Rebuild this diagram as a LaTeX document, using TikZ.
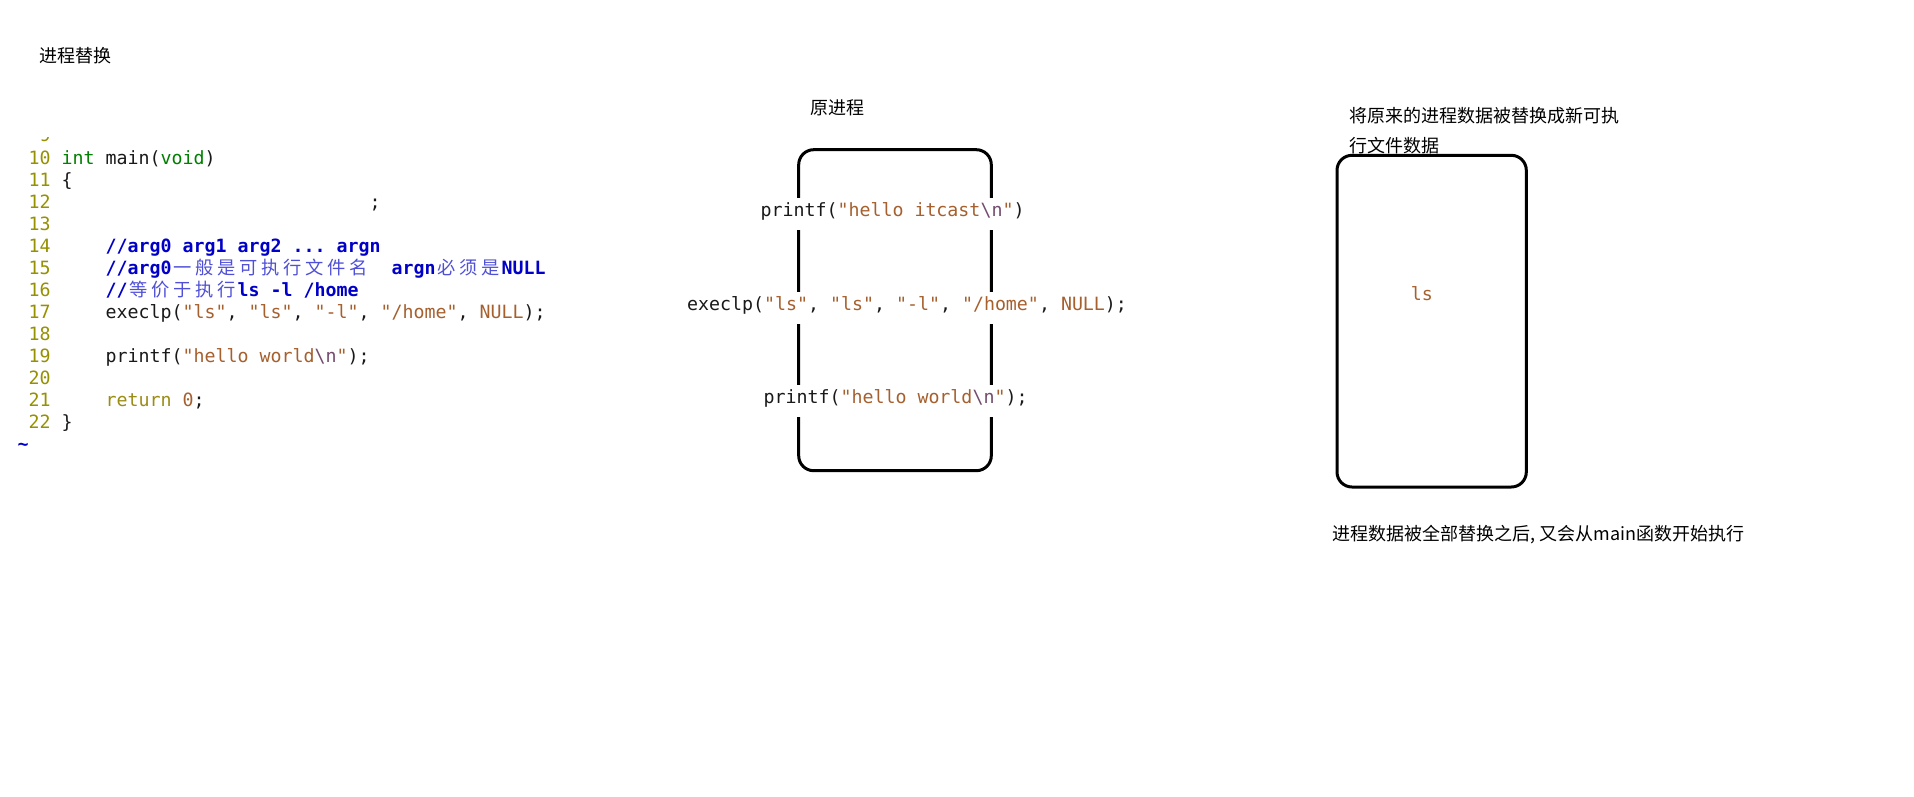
\documentclass[tikz,border=0pt]{standalone}
\usepackage{fontspec}
\setmonofont{DejaVu Sans Mono}
\newfontfamily\cjk{Noto Sans CJK SC}
\definecolor{lnum}{RGB}{150,145,0}
\definecolor{kwgreen}{RGB}{0,128,0}
\definecolor{cmt}{RGB}{0,0,200}
\definecolor{cmtcjk}{RGB}{80,80,215}
\definecolor{str}{RGB}{166,96,46}
\definecolor{esc}{RGB}{115,75,110}
\definecolor{stmt}{RGB}{155,140,20}
\definecolor{txt}{RGB}{25,25,25}
\newcommand\C[1]{\makebox[22pt]{\normalfont\cjk\fontsize{18.27}{22}\selectfont\color{cmtcjk}#1}}
\newcommand\Q[1]{\textcolor{str}{#1}}
\newcommand\E{\textcolor{esc}{\textbackslash n}}
\newcommand\seg[4]{\node[code] (#1) at ({17.5+11*#2},{164+22.03*(#3-10)}) {#4};}
\tikzset{
  code/.style={anchor=base west, inner sep=0pt, font=\ttfamily\fontsize{18.27}{22}\selectfont, text=txt},
  boxtext/.style={anchor=base, fill=white, inner xsep=1pt, inner ysep=6pt, text height=12.5pt, text depth=7.5pt, font=\ttfamily\fontsize{18.27}{22}\selectfont, text=txt},
  procbox/.style={draw=black, line width=3pt, rounded corners=15pt, inner sep=0pt},
  lab/.style={anchor=base west, inner sep=0pt, font=\cjk\fontsize{18}{22}\selectfont, text=black},
}
\begin{document}
\begin{tikzpicture}[x=1pt,y=-1pt]
\fill[white] (0,0) rectangle (1914,796);
\useasboundingbox (0,0) rectangle (1914,796);

% title
\node[lab] (title) at (39.5,62) {进程替换};

% code listing
\begin{scope}
  \clip (0,137) rectangle (100,150);
  \seg{n9}{2}{9}{\color{lnum}9}
\end{scope}
\foreach \n in {10,...,22} {
  \node[code, text=lnum] (n\n) at (28.5,{164+22.03*(\n-10)}) {\n};
}
\seg{l10}{4}{10}{\textcolor{kwgreen}{int} main(\textcolor{kwgreen}{void})}
\seg{l11}{4}{11}{\{}
\seg{l12}{32}{12}{;}
\seg{l14}{8}{14}{\bfseries\color{cmt}//arg0 arg1 arg2 ... argn}
\seg{l15}{8}{15}{\bfseries\color{cmt}//arg0\C{一}\C{般}\C{是}\C{可}\C{执}\C{行}\C{文}\C{件}\C{名}\hspace{22pt}argn\C{必}\C{须}\C{是}NULL}
\seg{l16}{8}{16}{\bfseries\color{cmt}//\C{等}\C{价}\C{于}\C{执}\C{行}ls -l /home}
\seg{l17}{8}{17}{execlp(\Q{"ls"}, \Q{"ls"}, \Q{"-l"}, \Q{"/home"}, \Q{NULL});}
\seg{l19}{8}{19}{printf(\Q{"hello world}\E\Q{"});}
\seg{l21}{8}{21}{\textcolor{stmt}{return} \Q{0};}
\seg{l22}{4}{22}{\}}
\seg{tilde}{0}{23}{\bfseries\color{cmt}\textasciitilde}

% original process
\node[lab] (origlabel) at (810.5,114) {原进程};
\node[procbox, minimum width=192.6pt, minimum height=321pt] (orig) at (895,310.2) {};
\node[boxtext] (t1) at (892.5,216.5) {printf(\Q{"hello itcast}\E\Q{"})};
\node[boxtext] (t2) at (907,310.7) {execlp(\Q{"ls"}, \Q{"ls"}, \Q{"-l"}, \Q{"/home"}, \Q{NULL});};
\node[boxtext] (t3) at (895.5,403.3) {printf(\Q{"hello world}\E\Q{"});};

% new process
\node[lab] (newlabel1) at (1349,122) {将原来的进程数据被替换成新可执};
\node[lab] (newlabel2) at (1349,152) {行文件数据};
\node[procbox, minimum width=189.3pt, minimum height=331.7pt] (new) at (1431.65,321.15) {};
\node[code, text=str] (ls) at (1410.7,300.7) {ls};
\node[lab] (note) at (1332.3,540.5) {进程数据被全部替换之后, 又会从main函数开始执行};
\end{tikzpicture}
\end{document}
